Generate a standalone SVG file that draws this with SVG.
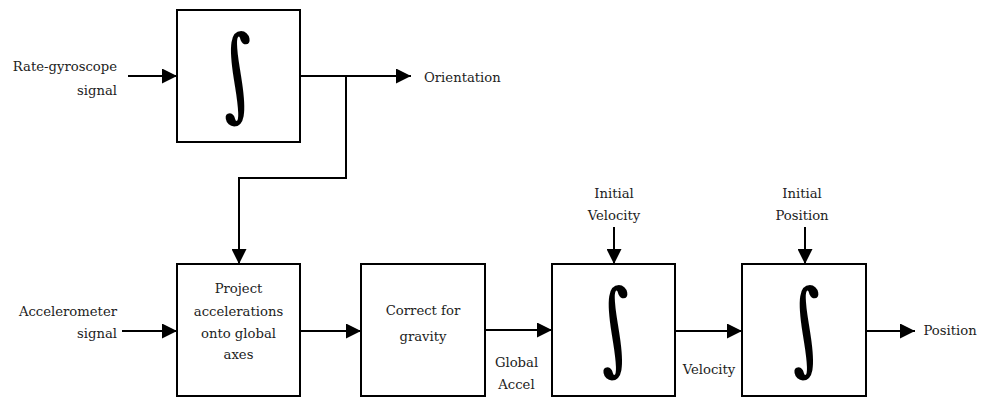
<svg xmlns="http://www.w3.org/2000/svg" width="986" height="397" viewBox="0 0 986 397">
<style>
.box{fill:#fff;stroke:#000;stroke-width:2}
.mid{text-anchor:middle}
.end{text-anchor:end}
.wire{fill:none;stroke:#000;stroke-width:2}
.lbl{font-family:"DejaVu Serif","Liberation Serif",serif;font-size:13.2px;fill:#222}
.int{font-family:"DejaVu Serif",serif;font-size:80px;fill:#000;text-anchor:middle}
</style>
<defs>
<marker id="arr" viewBox="0 0 15 15" refX="15" refY="7.5" markerWidth="15" markerHeight="15" markerUnits="userSpaceOnUse" orient="auto">
<path d="M0,0 L15,7.5 L0,15 Z" fill="#000"/>
</marker>
</defs>
<rect width="986" height="397" fill="#fff"/>
<g id="connectors">
<path class="wire" d="M128,76 H177" marker-end="url(#arr)"/>
<path class="wire" d="M300,76 H411" marker-end="url(#arr)"/>
<path class="wire" d="M346,76 V178 H239 V264" marker-end="url(#arr)"/>
<path class="wire" d="M122,331 H177" marker-end="url(#arr)"/>
<path class="wire" d="M300,331 H361" marker-end="url(#arr)"/>
<path class="wire" d="M485,330 H552" marker-end="url(#arr)"/>
<path class="wire" d="M675,331 H742" marker-end="url(#arr)"/>
<path class="wire" d="M866,331 H915" marker-end="url(#arr)"/>
<path class="wire" d="M614,227 V264" marker-end="url(#arr)"/>
<path class="wire" d="M805,227 V264" marker-end="url(#arr)"/>
</g>
<g id="gyro-integrator">
<rect class="box" x="177" y="10" width="123" height="132"/>
<g transform="translate(235.7,67) skewX(10) scale(1,1.27)"><text class="int" x="0" y="32">∫</text></g>
</g>
<g id="project" class="lbl">
<rect class="box" x="177" y="264" width="123" height="132"/>
<text class="mid" x="238.5" y="293">Project</text>
<text class="mid" x="238.5" y="315.5">accelerations</text>
<text class="mid" x="238.5" y="337.5">onto global</text>
<text class="mid" x="238.5" y="359">axes</text>
</g>
<g id="gravity" class="lbl">
<rect class="box" x="361" y="264" width="124" height="132"/>
<text class="mid" x="423" y="315">Correct for</text>
<text class="mid" x="423" y="340.5">gravity</text>
</g>
<g id="velocity-integrator">
<rect class="box" x="552" y="264" width="123" height="132"/>
<g transform="translate(613.3,321.5) skewX(10) scale(1,1.27)"><text class="int" x="0" y="32">∫</text></g>
</g>
<g id="position-integrator">
<rect class="box" x="742" y="264" width="124" height="132"/>
<g transform="translate(804.3,321.5) skewX(10) scale(1,1.27)"><text class="int" x="0" y="32">∫</text></g>
</g>
<g id="labels" class="lbl">
<text class="end" x="117" y="71">Rate-gyroscope</text>
<text class="end" x="117" y="95">signal</text>
<text x="424" y="82">Orientation</text>
<text class="end" x="117" y="315.5">Accelerometer</text>
<text class="end" x="117" y="338">signal</text>
<text class="mid" x="516.5" y="366.5">Global</text>
<text class="mid" x="516.5" y="389">Accel</text>
<text class="mid" x="614" y="197.5">Initial</text>
<text class="mid" x="614" y="220">Velocity</text>
<text class="mid" x="802" y="197.5">Initial</text>
<text class="mid" x="802" y="220">Position</text>
<text class="mid" x="709" y="374">Velocity</text>
<text x="923.5" y="334.5">Position</text>
</g>
</svg>
